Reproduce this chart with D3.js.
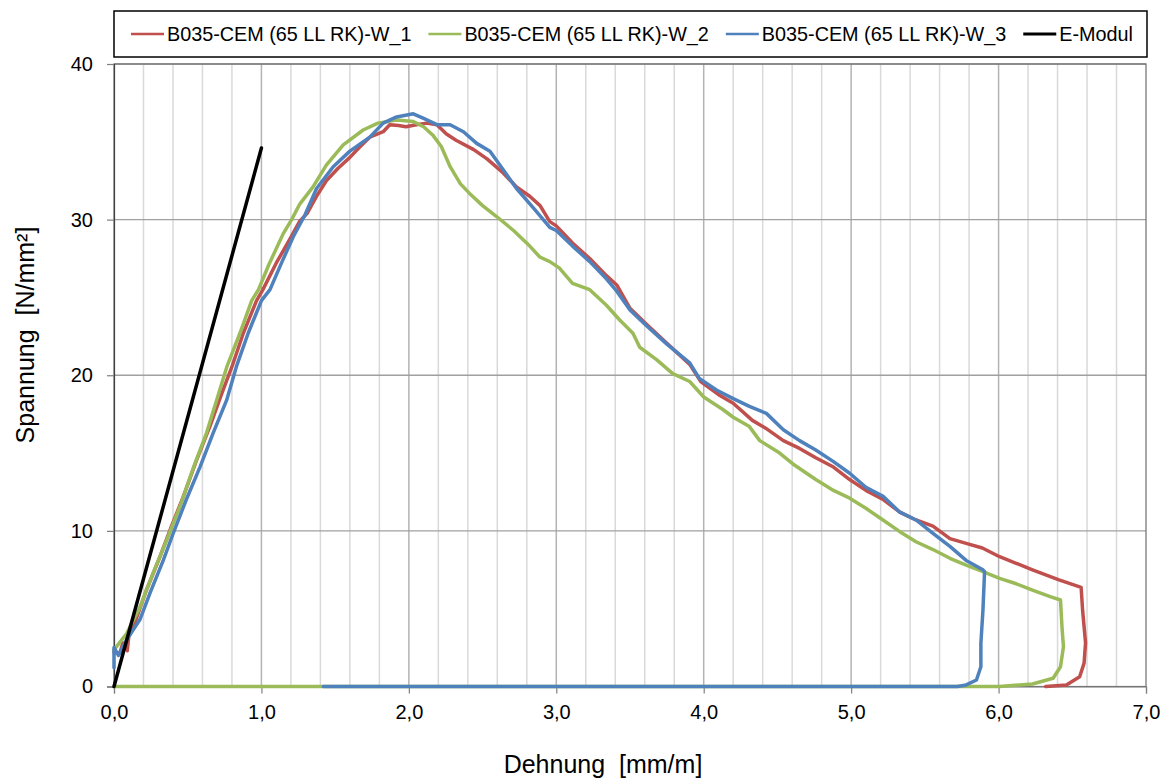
<!DOCTYPE html>
<html>
<head>
<meta charset="utf-8">
<script src="https://cdn.jsdelivr.net/npm/d3@7/dist/d3.min.js"></script>
<style>
  html, body { margin: 0; padding: 0; background: #fff; }
  svg { display: block; }
  text { font-family: "Liberation Sans", Arial, sans-serif; fill: #000; }
</style>
</head>
<body>
<svg id="chart" width="1167" height="780"></svg>
<script>
// Stress–strain curves of three specimens (strain in mm/m, stress in N/mm²)
const seriesNames = [
  "B035-CEM (65 LL RK)-W_1",
  "B035-CEM (65 LL RK)-W_2",
  "B035-CEM (65 LL RK)-W_3",
  "E-Modul"
];
const seriesColors = ["#C0504D", "#9BBB59", "#4F81BD", "#000000"];

const w1 = [
  [0.00,2.2],[0.04,2.15],[0.06,2.8],[0.09,2.3],[0.10,3.2],[0.13,3.8],[0.22,6.2],[0.31,8.3],
  [0.39,10.3],[0.47,12.2],[0.56,14.55],[0.65,16.7],[0.73,18.8],[0.80,20.55],[0.877,22.7],
  [0.967,24.8],[1.01,25.5],[1.10,27.2],[1.19,28.7],[1.26,29.9],[1.31,30.4],[1.38,31.6],
  [1.44,32.5],[1.52,33.3],[1.60,34.0],[1.67,34.7],[1.735,35.3],[1.826,35.65],[1.87,36.1],
  [1.93,36.05],[1.98,35.97],[2.05,36.1],[2.12,36.2],[2.19,36.1],[2.255,35.5],[2.32,35.1],
  [2.44,34.5],[2.53,33.9],[2.64,33.0],[2.73,32.1],[2.82,31.5],[2.89,30.9],[2.956,29.87],
  [3.0,29.6],[3.11,28.5],[3.227,27.5],[3.34,26.4],[3.41,25.8],[3.50,24.3],[3.61,23.3],
  [3.75,22.05],[3.905,20.7],[3.98,19.6],[4.11,18.7],[4.2,18.2],[4.33,17.1],[4.42,16.6],
  [4.54,15.8],[4.65,15.3],[4.76,14.7],[4.88,14.1],[4.99,13.3],[5.10,12.6],[5.22,12.0],
  [5.33,11.2],[5.44,10.7],[5.555,10.3],[5.67,9.5],[5.78,9.2],[5.89,8.9],[6.007,8.34],
  [6.23,7.5],[6.41,6.85],[6.56,6.37],[6.57,4.9],[6.59,2.8],[6.58,1.5],[6.55,0.63],
  [6.46,0.1],[6.32,0]
];

const w2 = [
  [0.0,2.35],[0.086,3.4],[0.176,5.1],[0.266,7.3],[0.357,9.4],[0.447,11.55],[0.54,14.1],
  [0.628,16.3],[0.696,18.4],[0.764,20.5],[0.854,22.7],[0.934,24.8],[0.98,25.5],[1.05,27.1],
  [1.148,29.1],[1.205,30.0],[1.26,31.0],[1.35,32.1],[1.44,33.5],[1.555,34.8],[1.69,35.76],
  [1.79,36.2],[1.917,36.4],[2.03,36.3],[2.10,35.97],[2.165,35.4],[2.22,34.7],[2.28,33.4],
  [2.35,32.3],[2.41,31.7],[2.50,30.9],[2.595,30.2],[2.71,29.3],[2.82,28.3],[2.888,27.6],
  [2.956,27.3],[3.02,26.9],[3.11,25.9],[3.227,25.5],[3.34,24.5],[3.43,23.55],[3.52,22.7],
  [3.566,21.8],[3.68,21.0],[3.79,20.1],[3.905,19.6],[4.0,18.6],[4.13,17.8],[4.2,17.3],
  [4.31,16.7],[4.38,15.8],[4.515,15.0],[4.605,14.3],[4.76,13.3],[4.88,12.6],[4.99,12.1],
  [5.10,11.45],[5.216,10.7],[5.33,9.95],[5.44,9.3],[5.555,8.8],[5.67,8.24],[5.78,7.8],
  [5.89,7.4],[6.007,6.95],[6.12,6.6],[6.23,6.2],[6.35,5.77],[6.42,5.56],[6.43,3.84],
  [6.44,2.56],[6.42,1.27],[6.37,0.53],[6.23,0.16],[6.007,0],[0.0,0]
];

const w3 = [
  [0.0,1.2],[0.0,2.5],[0.03,2.0],[0.086,3.0],[0.176,4.3],[0.244,6.0],[0.334,8.1],[0.40,9.8],
  [0.49,12.0],[0.583,14.1],[0.673,16.3],[0.764,18.4],[0.83,20.55],[0.91,22.7],[1.0,24.8],
  [1.058,25.5],[1.14,27.3],[1.216,28.9],[1.295,30.3],[1.374,32.0],[1.487,33.4],[1.60,34.4],
  [1.735,35.3],[1.826,36.2],[1.917,36.6],[2.03,36.8],[2.10,36.5],[2.19,36.1],[2.28,36.1],
  [2.37,35.65],[2.46,34.9],[2.55,34.4],[2.64,33.2],[2.73,32.0],[2.84,30.8],[2.956,29.5],
  [3.0,29.3],[3.11,28.3],[3.227,27.3],[3.34,26.2],[3.41,25.4],[3.50,24.2],[3.61,23.2],
  [3.75,22.0],[3.905,20.8],[3.97,19.8],[4.086,19.05],[4.2,18.5],[4.31,18.0],[4.425,17.55],
  [4.54,16.5],[4.65,15.8],[4.76,15.2],[4.88,14.45],[4.99,13.7],[5.10,12.8],[5.22,12.2],
  [5.33,11.2],[5.44,10.7],[5.555,9.84],[5.67,9.0],[5.78,8.1],[5.894,7.5],[5.905,7.38],
  [5.894,4.9],[5.88,2.78],[5.88,1.27],[5.85,0.42],[5.78,0.1],[5.72,0],[1.42,0]
];

// Elastic modulus reference line
const eModul = [[0.0,0.0],[1.0,34.6]];

const xTicks = [0,1,2,3,4,5,6,7];
const yTicks = [0,10,20,30,40];
const xLabel = "Dehnung  [mm/m]";
const yLabel = "Spannung  [N/mm²]";

const svg = d3.select("#chart");
const W = 1167, H = 780;
const plot = { left: 114, right: 1146, top: 64, bottom: 686.5 };

const x = d3.scaleLinear().domain([0, 7]).range([plot.left, plot.right]);
const y = d3.scaleLinear().domain([0, 40]).range([plot.bottom, plot.top]);

svg.append("rect").attr("width", W).attr("height", H).attr("fill", "#fff");

// minor vertical gridlines every 0.2
const minor = d3.range(1, 35).map(i => i * 0.2).filter(v => Math.abs(v - Math.round(v)) > 1e-6);
svg.append("g").selectAll("line").data(minor).join("line")
  .attr("x1", d => x(d)).attr("x2", d => x(d))
  .attr("y1", plot.top).attr("y2", plot.bottom)
  .attr("stroke", "#d9d9d9").attr("stroke-width", 1.5);

// major vertical gridlines
svg.append("g").selectAll("line").data(xTicks.slice(1, -1)).join("line")
  .attr("x1", d => x(d)).attr("x2", d => x(d))
  .attr("y1", plot.top).attr("y2", plot.bottom)
  .attr("stroke", "#b3b3b3").attr("stroke-width", 1.5);

// horizontal gridlines
svg.append("g").selectAll("line").data(yTicks.slice(1)).join("line")
  .attr("x1", plot.left).attr("x2", plot.right)
  .attr("y1", d => y(d)).attr("y2", d => y(d))
  .attr("stroke", "#a0a0a0").attr("stroke-width", 1.3);

// plot frame
svg.append("rect")
  .attr("x", plot.left).attr("y", plot.top)
  .attr("width", plot.right - plot.left).attr("height", plot.bottom - plot.top)
  .attr("fill", "none").attr("stroke", "#6e6e6e").attr("stroke-width", 1.2);

// axes
const fmtX = d => d3.format(".1f")(d).replace(".", ",");
const xAxis = d3.axisBottom(x).tickValues(xTicks).tickFormat(fmtX).tickSize(7).tickPadding(11);
const yAxis = d3.axisLeft(y).tickValues(yTicks).tickFormat(d3.format("d")).tickSize(7).tickPadding(14);

const gx = svg.append("g").attr("transform", `translate(0,${plot.bottom})`).call(xAxis);
const gy = svg.append("g").attr("transform", `translate(${plot.left},0)`).call(yAxis);
[gx, gy].forEach(g => {
  g.select(".domain").attr("stroke", "#7f7f7f").attr("stroke-width", 1.2);
  g.selectAll(".tick line").attr("stroke", "#7f7f7f").attr("stroke-width", 1.2);
  g.selectAll(".tick text").attr("font-size", 20).attr("font-family", "Liberation Sans, Arial, sans-serif").attr("fill", "#000");
});
gy.select(".domain").attr("stroke", "#404040");

// series
const line = d3.line().x(d => x(d[0])).y(d => y(d[1]));
const seriesData = [w1, w2, w3, eModul];
svg.append("g").selectAll("path").data(seriesData).join("path")
  .attr("d", line)
  .attr("fill", "none")
  .attr("stroke", (d, i) => seriesColors[i])
  .attr("stroke-width", 3.5)
  .attr("stroke-linejoin", "round")
  .attr("stroke-linecap", "round");

// axis titles
svg.append("text")
  .attr("x", 603).attr("y", 773)
  .attr("text-anchor", "middle")
  .attr("font-size", 25)
  .style("white-space", "pre")
  .text(xLabel);

svg.append("text")
  .attr("transform", `translate(33.5,335) rotate(-90)`)
  .attr("text-anchor", "middle")
  .attr("font-size", 25)
  .style("white-space", "pre")
  .text(yLabel);

// legend
const legend = svg.append("g");
legend.append("rect")
  .attr("x", 114).attr("y", 11).attr("width", 1033).attr("height", 46)
  .attr("fill", "#fff").attr("stroke", "#000").attr("stroke-width", 1.5);
let lx = 131;
seriesNames.forEach((name, i) => {
  legend.append("line")
    .attr("x1", lx).attr("x2", lx + 33).attr("y1", 34).attr("y2", 34)
    .attr("stroke", seriesColors[i]).attr("stroke-width", i === 3 ? 3 : 2.5);
  const t = legend.append("text")
    .attr("x", lx + 36).attr("y", 41)
    .attr("font-size", 19.8)
    .text(name);
  lx += 36 + t.node().getComputedTextLength() + 17;
});
</script>
</body>
</html>
